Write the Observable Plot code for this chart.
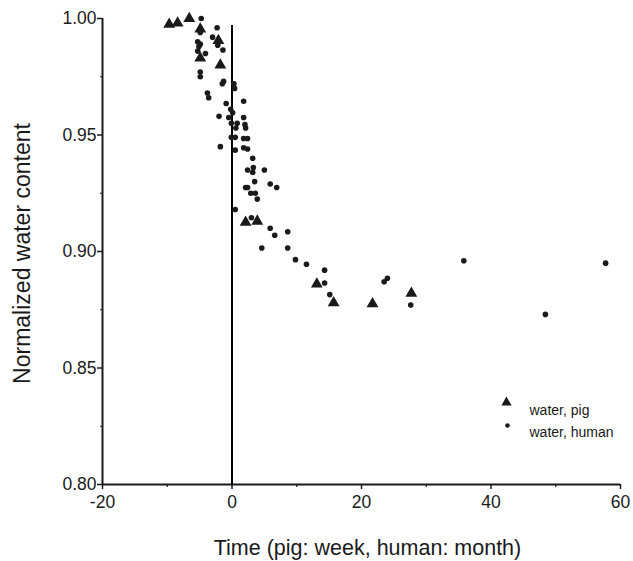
<!DOCTYPE html>
<html>
<head>
<meta charset="utf-8">
<script src="https://cdn.jsdelivr.net/npm/d3@7"></script>
<script src="https://cdn.jsdelivr.net/npm/@observablehq/plot@0.6"></script>
<style>
  html, body { margin: 0; padding: 0; background: #fff; }
  #chart svg { display: block; }
</style>
</head>
<body>
<div id="chart"></div>
<script>
// Pig (time in weeks) — triangles
const pigTime  = [-9.7, -8.4, -6.6, -4.9, -2.1, -4.9, -1.8, 2.1, 3.9, 13.1, 15.7, 21.7, 27.7];
const pigWater = [0.9975, 0.998, 1.000, 0.9955, 0.9905, 0.983, 0.980, 0.9125, 0.913, 0.886, 0.878, 0.8775, 0.882];

// Human (time in months) — dots
const humanTime = [
  -4.75, -2.3, -4.9, -5.3, -4.9, -5.1, -5.3, -4.1, -3.0, -2.2, -1.4,
  -4.9, -4.9, -1.3, -1.5, 0.3, 0.4, -3.8, -3.6, 1.8, -0.9, -0.2, 0.1,
  -2.0, -0.5, 1.8, 0.8, 2.0, 2.1, -0.1, 0.6, -0.1, 0.5, 1.8, 2.4,
  -1.8, 1.8, 2.4, 0.5, 3.2, 2.4, 3.2, 3.3, 5.0, 3.5, 2.1, 2.4, 2.9,
  3.6, 3.9, 5.9, 6.9, 0.5, 3.0, 5.9, 6.6, 8.6, 4.6, 8.6, 9.8, 11.5,
  14.3, 14.3, 15.1, 23.5, 24.0, 27.6, 35.8, 48.4, 57.7
];
const humanWater = [
  1.000, 0.996, 0.994, 0.990, 0.989, 0.988, 0.986, 0.985, 0.992, 0.9885, 0.9865,
  0.977, 0.975, 0.973, 0.972, 0.972, 0.970, 0.968, 0.966, 0.9645, 0.9635, 0.961, 0.9595,
  0.958, 0.9575, 0.9575, 0.955, 0.9545, 0.953, 0.955, 0.953, 0.949, 0.949, 0.9485, 0.9485,
  0.945, 0.9445, 0.944, 0.9435, 0.940, 0.935, 0.934, 0.936, 0.935, 0.930, 0.9275, 0.9275, 0.925,
  0.925, 0.9225, 0.929, 0.9275, 0.918, 0.9145, 0.910, 0.907, 0.9085, 0.9015, 0.9015, 0.8965, 0.8945,
  0.892, 0.8865, 0.8815, 0.887, 0.8885, 0.877, 0.896, 0.873, 0.895
];

// Axes
const xDomain = [-20, 60];
const xTicks = [-20, 0, 20, 40, 60];
const xMinorTicks = [-10, 10, 30, 50];
const yDomain = [0.80, 1.00];
const yTicks = [0.80, 0.85, 0.90, 0.95, 1.00];
const yMinorTicks = [0.825, 0.875, 0.925, 0.975];

// Reference line at time zero
const zeroTime = 0;
const zeroLineTop = 0.997;

// Text
const xTitle = "Time (pig: week, human: month)";
const yTitle = "Normalized water content";
const legendLabels = ["water, pig", "water, human"];

const pig = pigTime.map((t, i) => ({t, w: pigWater[i]}));
const human = humanTime.map((t, i) => ({t, w: humanWater[i]}));

const ink = "#1a1a1a";
const font = "'Liberation Sans', Arial, Helvetica, sans-serif";

const chart = Plot.plot({
  width: 633,
  height: 561,
  marginLeft: 102,
  marginRight: 13,
  marginTop: 18,
  marginBottom: 77,
  style: {fontFamily: font, color: ink, background: "#fff"},
  x: {domain: xDomain, label: null},
  y: {domain: yDomain, label: null},
  marks: [
    // minor ticks
    Plot.axisX({ticks: xMinorTicks, tickSize: 3, text: null, label: null, stroke: ink, strokeWidth: 1.2}),
    Plot.axisY({ticks: yMinorTicks, tickSize: 2, text: null, label: null, stroke: ink, strokeWidth: 1.2}),
    // major ticks + labels
    Plot.axisX({ticks: xTicks, tickSize: 5, tickPadding: 6, tickFormat: d => String(d),
      fontSize: 17.5, label: null, stroke: ink, strokeWidth: 1.5, fill: ink}),
    Plot.axisY({ticks: yTicks, tickSize: 5, tickPadding: 1, tickFormat: d3.format(".2f"),
      fontSize: 17.5, label: null, stroke: ink, strokeWidth: 1.5, fill: ink}),
    // axis lines
    Plot.ruleX([xDomain[0]], {stroke: ink, strokeWidth: 2}),
    Plot.ruleY([yDomain[0]], {stroke: ink, strokeWidth: 2}),
    // time zero line
    Plot.ruleX([zeroTime], {y1: yDomain[0], y2: zeroLineTop, stroke: "#000", strokeWidth: 2}),
    // data
    Plot.dot(human, {x: "t", y: "w", r: 2.8, fill: ink, stroke: "none"}),
    Plot.dot(pig, {x: "t", y: "w", symbol: "triangle", r: 4.4, fill: ink, stroke: "none"}),
    // axis titles
    Plot.text([xTitle], {frameAnchor: "bottom", text: d => d, dx: 6, dy: 70, lineAnchor: "bottom",
      textAnchor: "middle", fontSize: 21.5, fill: ink}),
    Plot.text([yTitle], {frameAnchor: "left", text: d => d, dx: -80, dy: 2, rotate: -90,
      textAnchor: "middle", lineAnchor: "middle", fontSize: 23, fill: ink}),
    // legend
    Plot.dot([legendLabels[0]], {frameAnchor: "top-left", dx: 404, dy: 384, symbol: "triangle", r: 3.8, fill: ink, stroke: "none"}),
    Plot.dot([legendLabels[1]], {frameAnchor: "top-left", dx: 405, dy: 407, r: 2.3, fill: ink, stroke: "none"}),
    Plot.text([legendLabels[0]], {frameAnchor: "top-left", dx: 427, dy: 387, text: d => d, textAnchor: "start", fontSize: 14, fill: ink}),
    Plot.text([legendLabels[1]], {frameAnchor: "top-left", dx: 427, dy: 409, text: d => d, textAnchor: "start", fontSize: 14, fill: ink})
  ]
});

document.getElementById("chart").appendChild(chart);
</script>
</body>
</html>
